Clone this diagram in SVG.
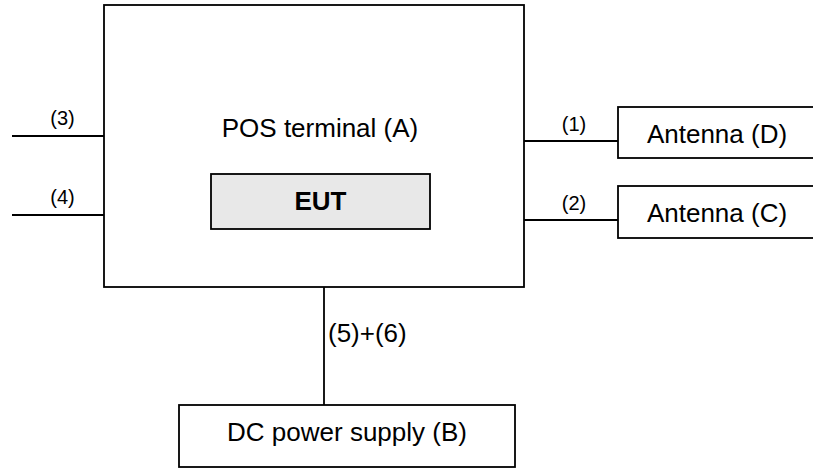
<svg xmlns="http://www.w3.org/2000/svg" width="813" height="470" viewBox="0 0 813 470">
<style>
.box{fill:#fff;stroke:#000;stroke-width:1.8}
.eut{fill:#e8e8e8;stroke:#000;stroke-width:1.8}
.ln{stroke:#000;stroke-width:1.8;fill:none}
text{font-family:"Liberation Sans",Arial,sans-serif;fill:#000}
.big{font-size:26px}
.sm{font-size:20px}
.bold{font-size:26px;font-weight:bold}
</style>
<rect width="813" height="470" fill="#fff"/>
<g id="connectors">
<line class="ln" x1="12" y1="136" x2="104" y2="136"/>
<line class="ln" x1="12" y1="215" x2="104" y2="215"/>
<line class="ln" x1="524" y1="141" x2="618" y2="141"/>
<line class="ln" x1="524" y1="220" x2="618" y2="220"/>
<line class="ln" x1="324" y1="287" x2="324" y2="405"/>
<text class="sm" x="62.5" y="125" text-anchor="middle">(3)</text>
<text class="sm" x="62.5" y="204" text-anchor="middle">(4)</text>
<text class="sm" x="574" y="131" text-anchor="middle">(1)</text>
<text class="sm" x="574" y="210" text-anchor="middle">(2)</text>
<text class="big" x="328" y="342">(5)+(6)</text>
</g>
<g id="pos">
<rect class="box" x="104" y="5" width="420" height="282"/>
<text class="big" x="320" y="137" text-anchor="middle">POS terminal (A)</text>
</g>
<g id="eut">
<rect class="eut" x="211" y="174" width="219" height="55"/>
<text class="bold" x="320.5" y="210" text-anchor="middle">EUT</text>
</g>
<g id="antD">
<rect class="box" x="618" y="107" width="200" height="51"/>
<text class="big" x="717" y="143" text-anchor="middle">Antenna (D)</text>
</g>
<g id="antC">
<rect class="box" x="618" y="186" width="200" height="52"/>
<text class="big" x="717" y="222" text-anchor="middle">Antenna (C)</text>
</g>
<g id="dc">
<rect class="box" x="179" y="405" width="336" height="62"/>
<text class="big" x="347" y="441" text-anchor="middle">DC power supply (B)</text>
</g>
</svg>
